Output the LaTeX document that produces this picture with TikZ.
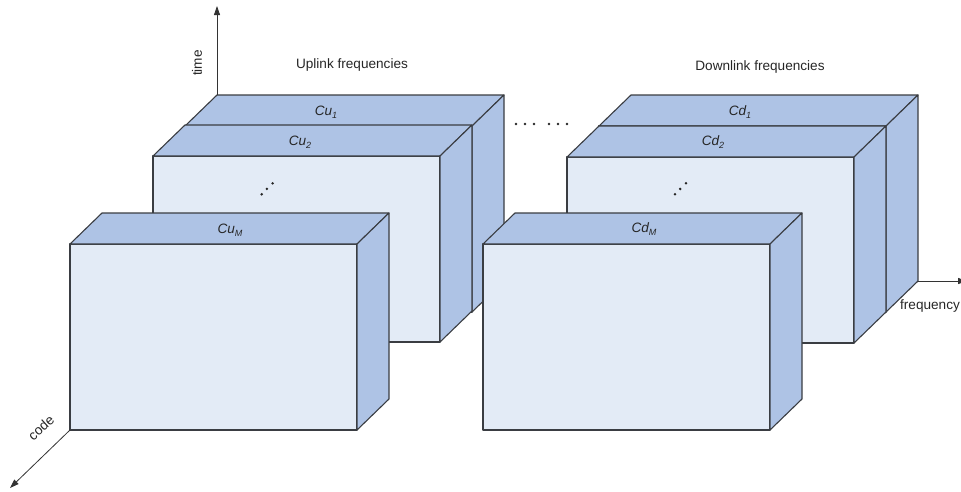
\documentclass[tikz,border=0pt]{standalone}
\usepackage{fontspec}
\setmainfont{Liberation Sans}
\usetikzlibrary{arrows.meta}
\definecolor{facefront}{HTML}{E3EBF6}
\definecolor{faceside}{HTML}{AEC3E5}
\definecolor{edgecol}{HTML}{3A3D42}
\newcommand\lowsub[1]{\raisebox{-0.35ex}{\fontsize{9pt}{10pt}\selectfont #1}}
\tikzset{
  face/.style={draw=edgecol, line width=1.1pt, line join=round},
  lbl/.style={font=\fontsize{13.6pt}{16pt}\selectfont, text=black!85, inner sep=0pt},
  axisline/.style={draw=black!80, line width=0.8pt, -{Triangle[length=9pt,width=6pt]}},
  dotmark/.style={fill=black!85, draw=none},
  pics/slab/.style={code={
    \path[face, fill=facefront] (0,0) rectangle (287,186);
    \path[face, fill=faceside] (0,0) -- (32,-31) -- (319,-31) -- (287,0) -- cycle;
    \path[face, fill=faceside] (287,0) -- (319,-31) -- (319,155) -- (287,186) -- cycle;
    \coordinate (-btl) at (32,-31);
    \coordinate (-bbr) at (319,155);
    \coordinate (-fbl) at (0,186);
  }}
}
\begin{document}
\begin{tikzpicture}[x=1pt,y=-1pt]
\useasboundingbox (0,0) rectangle (961,491);

% axis end points
\coordinate (timetip) at (217,6);
\coordinate (freqtip) at (967,281);
\coordinate (codetip) at (10,488);

% uplink slabs
\pic (cu1) at (185,126) {slab};
\pic (cu2) at (153,156) {slab};
\pic (cum) at (70,244) {slab};
% downlink slabs
\pic (cd1) at (599,126) {slab};
\pic (cd2) at (567,157) {slab};
\pic (cdm) at (483,244) {slab};

% axes
\draw[axisline] (cu1-btl) -- (timetip);
\draw[axisline] (cd1-bbr) -- (freqtip);
\draw[axisline] (cum-fbl) -- (codetip);

% axis labels
\node[lbl, rotate=90] (timelbl) at (197,63) {time};
\node[lbl, rotate=42] (codelbl) at (41,428) {code};
\node[lbl] (freqlbl) at (930,306) {frequency};

% group titles
\node[lbl] (uptitle) at (352,65) {Uplink frequencies};
\node[lbl] (downtitle) at (760,67) {Downlink frequencies};

% slab labels
\node[lbl] (cu1lbl) at (326,112) {\textit{Cu\lowsub{1}}};
\node[lbl] (cu2lbl) at (300,142) {\textit{Cu\lowsub{2}}};
\node[lbl] (cumlbl) at (230,230) {\textit{Cu\lowsub{M}}};
\node[lbl] (cd1lbl) at (740,112) {\textit{Cd\lowsub{1}}};
\node[lbl] (cd2lbl) at (713,142) {\textit{Cd\lowsub{2}}};
\node[lbl] (cdmlbl) at (644,229) {\textit{Cd\lowsub{M}}};

% diagonal dots
\foreach \px/\py in {261.7/194.3, 266.9/188.9, 272.6/183.3, 675/194.3, 680.2/188.9, 686/183.3}
  \fill[dotmark] (\px,\py) circle (1.4);
% horizontal dots between groups
\foreach \px in {516,525,534,549,558,567}
  \fill[dotmark] (\px,124) circle (1.3);
\end{tikzpicture}
\end{document}
